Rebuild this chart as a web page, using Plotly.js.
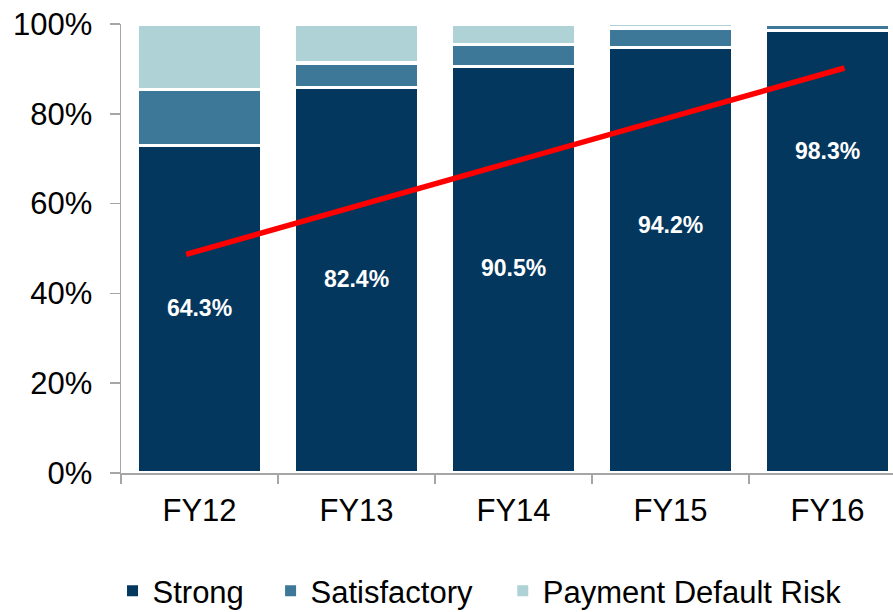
<!DOCTYPE html>
<html>
<head>
<meta charset="utf-8">
<script src="https://cdn.plot.ly/plotly-3.0.1.min.js"></script>
<style>
  html, body { margin: 0; padding: 0; background: #ffffff; }
  #chart { width: 893px; height: 612px; }
</style>
</head>
<body>
<div id="chart"></div>
<script>
// ---- data ----
const categories = ['FY12', 'FY13', 'FY14', 'FY15', 'FY16'];
const seriesNames = ['Strong', 'Satisfactory', 'Payment Default Risk'];
const strong = [73.0, 85.8, 90.6, 94.7, 98.5];
const satisfactory = [12.5, 5.5, 4.8, 4.4, 1.5];
const paymentDefaultRisk = [14.5, 8.7, 4.6, 1.0, 0.0];
const strongLabels = ['64.3%', '82.4%', '90.5%', '94.2%', '98.3%'];
const strongLabelY = [36.3, 42.6, 45.2, 54.7, 71.2];
const trendX = [-0.085, 4.108];
const trendY = [48.7, 90.2];
const yTickVals = [0, 20, 40, 60, 80, 100];
const yTickText = ['0%', '20%', '40%', '60%', '80%', '100%'];

// ---- style ----
const FONT = 'Liberation Sans, Arial, sans-serif';
const seriesColors = ['#03375e', '#3e7898', '#aed2d6'];
const barLine = { color: '#ffffff', width: 3.2 };
const legendX = [0.126, 0.303, 0.563];   // container fractions for each legend entry

const seriesValues = [strong, satisfactory, paymentDefaultRisk];
const traces = [];
seriesValues.forEach((vals, i) => {
  traces.push({ type: 'bar', name: seriesNames[i], x: categories, y: vals,
    marker: { color: seriesColors[i], line: barLine }, showlegend: false, hoverinfo: 'skip' });
});
traces.push({ type: 'scatter', mode: 'lines', x: trendX, y: trendY, xaxis: 'x2', yaxis: 'y',
  line: { color: '#ff0000', width: 5.5 }, showlegend: false, hoverinfo: 'skip' });
traces.push({ type: 'scatter', mode: 'text', x: categories, y: strongLabelY, text: strongLabels,
  textposition: 'middle center',
  textfont: { family: FONT, size: 23, color: '#ffffff', weight: 'bold' },
  showlegend: false, hoverinfo: 'skip' });
// legend entries (one legend per series so each can be placed)
seriesNames.forEach((n, i) => {
  traces.push({ type: 'scatter', mode: 'markers', name: n, x: [null], y: [null],
    marker: { symbol: 'square', size: 11, color: seriesColors[i] },
    legend: i === 0 ? 'legend' : 'legend' + (i + 1), hoverinfo: 'skip' });
});

function legendCfg(x) {
  return {
    orientation: 'h', xref: 'container', yref: 'container',
    x: x, xanchor: 'left', y: 1 - 591 / 612, yanchor: 'middle',
    bgcolor: 'rgba(0,0,0,0)', borderwidth: 0,
    font: { family: FONT, size: 31, color: '#000000' },
    itemclick: false, itemdoubleclick: false
  };
}

const layout = {
  width: 893, height: 612,
  margin: { l: 121, r: 0, t: 24, b: 139.3 },
  paper_bgcolor: '#ffffff', plot_bgcolor: '#ffffff',
  barmode: 'stack', bargap: 0.213,
  hovermode: false,
  font: { family: FONT, size: 31, color: '#000000' },
  xaxis: {
    type: 'category', categoryorder: 'array', categoryarray: categories,
    range: [-0.5, 4.417], fixedrange: true,
    showline: true, linecolor: '#a6a6a6', linewidth: 1.5,
    ticks: 'outside', tickson: 'boundaries', ticklen: 9, tickcolor: '#a6a6a6', tickwidth: 1.5,
    tickfont: { family: FONT, size: 31, color: '#000000' },
    ticklabelstandoff: 9,
    showgrid: false, zeroline: false
  },
  xaxis2: {
    overlaying: 'x', anchor: 'y', range: [-0.5, 4.417], visible: false, fixedrange: true
  },
  yaxis: {
    range: [0, 100], fixedrange: true,
    tickvals: yTickVals, ticktext: yTickText,
    showline: true, linecolor: '#a6a6a6', linewidth: 1.5,
    ticks: 'outside', ticklen: 10, tickcolor: '#a6a6a6', tickwidth: 1.5,
    tickfont: { family: FONT, size: 31, color: '#000000' },
    ticklabelstandoff: 11,
    showgrid: false, zeroline: false
  },
  showlegend: true,
  legend: legendCfg(legendX[0]),
  legend2: legendCfg(legendX[1]),
  legend3: legendCfg(legendX[2])
};

Plotly.newPlot('chart', traces, layout, { displayModeBar: false, staticPlot: true });
</script>
</body>
</html>
